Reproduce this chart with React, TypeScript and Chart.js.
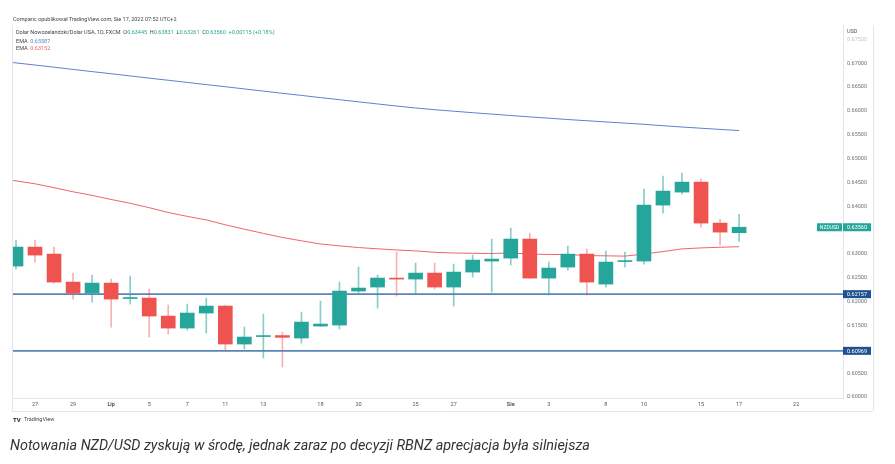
import React, { useEffect, useRef } from 'react';
import { Chart, registerables } from 'chart.js';
Chart.register(...registerables);

// Daily NZD/USD candles, Jun 24 – Aug 17 2022 (index 0 = Jun 24)
const days = ['24.06','27.06','28.06','29.06','30.06','01.07','04.07','05.07','06.07','07.07','08.07','11.07','12.07','13.07','14.07','15.07','18.07','19.07','20.07','21.07','22.07','25.07','26.07','27.07','28.07','29.07','01.08','02.08','03.08','04.08','05.08','08.08','09.08','10.08','11.08','12.08','15.08','16.08','17.08'];
const openP = [0.62746,0.63144,0.62997,0.62410,0.62180,0.62389,0.62065,0.62075,0.61698,0.61446,0.61761,0.61907,0.61111,0.61268,0.61289,0.61237,0.61488,0.61509,0.62222,0.62306,0.62494,0.62473,0.62599,0.62306,0.62620,0.62851,0.62913,0.63312,0.62494,0.62725,0.62997,0.62368,0.62840,0.62851,0.64024,0.64297,0.64506,0.63647,0.63445];
const highP = [0.63291,0.63291,0.63144,0.62599,0.62557,0.62473,0.62536,0.62264,0.61928,0.61949,0.62075,0.61928,0.61467,0.61740,0.61362,0.61782,0.62012,0.62410,0.62725,0.62557,0.63039,0.62809,0.62809,0.62788,0.62976,0.63312,0.63542,0.63437,0.62830,0.63165,0.63102,0.63060,0.63039,0.64360,0.64632,0.64695,0.64569,0.63731,0.63831];
const lowP = [0.62683,0.62830,0.62389,0.62054,0.61991,0.61467,0.61949,0.61258,0.61320,0.61404,0.61341,0.60985,0.61006,0.60817,0.60629,0.61132,0.61478,0.61425,0.62180,0.61865,0.62117,0.62180,0.62264,0.61907,0.62515,0.62201,0.62767,0.62484,0.62138,0.62662,0.62138,0.62306,0.62725,0.62788,0.63857,0.64255,0.63563,0.63186,0.63261];
const closeP = [0.63144,0.62976,0.62410,0.62180,0.62389,0.62054,0.62075,0.61698,0.61446,0.61761,0.61907,0.61111,0.61258,0.61279,0.61251,0.61572,0.61530,0.62222,0.62285,0.62494,0.62473,0.62599,0.62306,0.62620,0.62872,0.62892,0.63312,0.62494,0.62704,0.62997,0.62410,0.62830,0.62851,0.64024,0.64318,0.64506,0.63647,0.63458,0.63560];

// EMA series (index -1 .. 38)
const emaStart = -1;
const emaSlow = [0.67050,0.67005,0.66961,0.66915,0.66869,0.66823,0.66778,0.66732,0.66686,0.66642,0.66596,0.66550,0.66506,0.66460,0.66414,0.66368,0.66324,0.66278,0.66234,0.66189,0.66145,0.66101,0.66060,0.66024,0.65993,0.65961,0.65932,0.65902,0.65873,0.65846,0.65818,0.65793,0.65768,0.65743,0.65718,0.65689,0.65661,0.65636,0.65611,0.65587];
const emaFast = [0.64588,0.64532,0.64471,0.64389,0.64303,0.64228,0.64142,0.64062,0.63970,0.63869,0.63788,0.63714,0.63611,0.63519,0.63431,0.63345,0.63276,0.63209,0.63169,0.63134,0.63108,0.63083,0.63064,0.63035,0.63020,0.63014,0.63010,0.63020,0.62999,0.62989,0.62989,0.62966,0.62960,0.62955,0.62997,0.63050,0.63106,0.63127,0.63140,0.63152];

const xTickIdx = [1,3,5,7,9,11,13,16,18,21,23,26,28,31,33,36,38,41];
const xTickLabels = ['27','29','Lip','5','7','11','13','18','20','25','27','Sie','3','8','10','15','17','22'];
const monthLabels = ['Lip','Sie'];
const yTicks = [0.600,0.605,0.610,0.615,0.620,0.625,0.630,0.635,0.640,0.645,0.650,0.655,0.660,0.665,0.670,0.675];
const levels = [0.62157, 0.60969];
const symbol = 'NZDUSD';
const headerText = 'Comparic opublikował TradingView.com, Sie 17, 2022 07:52 UTC+2';
const instrumentText = 'Dolar Nowozelandzki/Dolar USA, 1D, FXCM';
const changeText = '+0.00115 (+0.18%)';
const captionText = 'Notowania NZD/USD zyskują w środę, jednak zaraz po decyzji RBNZ aprecjacja była silniejsza';

const UP = '#26a69a';
const DOWN = '#ef5350';
const UP_WICK = 'rgba(38,166,154,0.55)';
const DOWN_WICK = 'rgba(239,83,80,0.45)';
const SLOW_C = '#5d82cf';
const FAST_C = '#f06468';
const LEVEL_C = '#5a84b8';
const LEVEL_BOX = '#1f5190';
const FONT = 'Roboto, "Liberation Sans", sans-serif';

const overlay = {
  id: 'tvOverlay',
  afterDraw(chart: any) {
    const { ctx, chartArea: ca, scales } = chart;
    const y = scales.y;
    ctx.save();
    // frame lines
    ctx.strokeStyle = '#e3e5ea';
    ctx.lineWidth = 1;
    ctx.beginPath();
    ctx.moveTo(ca.left + 0.5, ca.top); ctx.lineTo(ca.left + 0.5, 411);
    ctx.moveTo(ca.left, 411.5); ctx.lineTo(873, 411.5);
    ctx.moveTo(873.5, ca.top); ctx.lineTo(873.5, 411);
    ctx.stroke();

    // level labels on price axis
    ctx.font = `5.5px ${FONT}`;
    ctx.textBaseline = 'middle';
    levels.forEach((lv) => {
      const py = y.getPixelForValue(lv);
      ctx.fillStyle = LEVEL_BOX;
      ctx.fillRect(ca.right, py - 4, 28, 8);
      ctx.fillStyle = '#ffffff';
      ctx.textAlign = 'left';
      ctx.fillText(lv.toFixed(5), ca.right + 4, py + 0.3);
    });
    // last price
    const last = closeP[closeP.length - 1];
    const lp = y.getPixelForValue(last);
    ctx.fillStyle = UP;
    ctx.fillRect(ca.right, lp - 4, 28, 8);
    ctx.fillRect(ca.right - 26, lp - 4, 25, 8);
    ctx.fillStyle = '#ffffff';
    ctx.fillText(last.toFixed(5), ca.right + 4, lp + 0.3);
    ctx.textAlign = 'center';
    ctx.font = `5px ${FONT}`;
    ctx.fillText(symbol, ca.right - 13.5, lp + 0.3);

    // currency label
    ctx.fillStyle = '#ffffff';
    ctx.fillRect(ca.right + 1, ca.top, 29, 10);
    ctx.textAlign = 'left';
    ctx.fillStyle = '#555';
    ctx.font = `5.5px ${FONT}`;
    ctx.fillText('USD', ca.right + 4, 32);
    ctx.fillStyle = '#c4c6cc';
    ctx.fillText((0.675).toFixed(5), ca.right + 4, y.getPixelForValue(0.675));

    // header texts
    ctx.textAlign = 'left';
    ctx.fillStyle = '#444';
    ctx.fillText(headerText, 13, 20);
    const segs: [string, string][] = [
      [instrumentText + '  O', '#444'],
      [openP[openP.length - 1].toFixed(5), UP],
      ['  H', '#444'],
      [highP[highP.length - 1].toFixed(5), UP],
      ['  L', '#444'],
      [lowP[lowP.length - 1].toFixed(5), UP],
      ['  C', '#444'],
      [closeP[closeP.length - 1].toFixed(5), UP],
      ['  ' + changeText, UP],
    ];
    let x = 16;
    segs.forEach(([t, c]) => {
      ctx.fillStyle = c;
      ctx.fillText(t, x, 33);
      x += ctx.measureText(t).width;
    });
    const emaRows: [number, string, number][] = [
      [emaSlow[emaSlow.length - 1], SLOW_C, 41.5],
      [emaFast[emaFast.length - 1], FAST_C, 48.5],
    ];
    emaRows.forEach(([v, c, ty]) => {
      ctx.fillStyle = '#444';
      ctx.fillText('EMA', 16, ty);
      const w = ctx.measureText('EMA  ').width;
      ctx.fillStyle = c;
      ctx.fillText(v.toFixed(5), 16 + w, ty);
    });

    // TradingView mark
    ctx.fillStyle = '#131722';
    ctx.font = `bold 6px ${FONT}`;
    ctx.fillText('TV', 13, 420);
    ctx.fillStyle = '#444';
    ctx.font = `5.5px ${FONT}`;
    ctx.fillText('TradingView', 24, 420);
    ctx.restore();
  },
  beforeDatasetsDraw(chart: any) {
    const { ctx, chartArea: ca, scales } = chart;
    ctx.save();
    ctx.strokeStyle = LEVEL_C;
    ctx.lineWidth = 1.6;
    levels.forEach((lv) => {
      const py = scales.y.getPixelForValue(lv);
      ctx.beginPath();
      ctx.moveTo(ca.left, py);
      ctx.lineTo(ca.right, py);
      ctx.stroke();
    });
    ctx.restore();
  },
};

export default function App() {
  const ref = useRef<HTMLCanvasElement>(null);
  useEffect(() => {
    document.body.style.margin = '0';
    const up = closeP.map((c, i) => c >= openP[i]);
    const bodies = openP.map((o, i) => ({ x: i, y: [o, closeP[i]] }));
    const wicks = lowP.map((l, i) => ({ x: i, y: [l, highP[i]] }));
    const slow = emaSlow.map((v, i) => ({ x: i + emaStart, y: v }));
    const fast = emaFast.map((v, i) => ({ x: i + emaStart, y: v }));
    const chart = new Chart(ref.current as HTMLCanvasElement, {
      type: 'bar',
      data: {
        labels: days,
        datasets: [
          { type: 'line', data: slow, borderColor: SLOW_C, borderWidth: 1, pointRadius: 0, order: 3 } as any,
          { type: 'line', data: fast, borderColor: FAST_C, borderWidth: 1, pointRadius: 0, order: 3 } as any,
          { data: wicks as any, backgroundColor: up.map((u) => (u ? UP_WICK : DOWN_WICK)), barThickness: 1, grouped: false, order: 2 } as any,
          { data: bodies as any, backgroundColor: up.map((u) => (u ? UP : DOWN)), barThickness: 14, minBarLength: 1, grouped: false, order: 1 } as any,
        ],
      },
      options: {
        animation: false,
        responsive: false,
        layout: { padding: { left: 12, top: 25, right: 22, bottom: 53 } },
        plugins: { legend: { display: false }, tooltip: { enabled: false } },
        scales: {
          x: {
            type: 'linear',
            min: -0.21,
            max: 43.46,
            offset: false,
            grid: { display: false, drawTicks: false },
            border: { display: true, color: '#e3e5ea' },
            afterBuildTicks: (s: any) => { s.ticks = xTickIdx.map((v) => ({ value: v })); },
            afterFit: (s: any) => { s.height = 13; },
            ticks: {
              autoSkip: false,
              maxRotation: 0,
              padding: 3.5,
              color: '#555',
              font: (c: any) => ({ family: FONT, size: 5.5, weight: monthLabels.includes(c.tick && c.tick.label) ? 'bold' : 'normal' }),
              callback: (v: any) => { const k = xTickIdx.indexOf(v); return k >= 0 ? xTickLabels[k] : ''; },
            },
          },
          y: {
            position: 'right',
            min: 0.5998,
            max: 0.678,
            grid: { display: false, drawTicks: false },
            border: { display: true, color: '#e3e5ea' },
            afterBuildTicks: (s: any) => { s.ticks = yTicks.map((v) => ({ value: v })); },
            afterFit: (s: any) => { s.width = 30; },
            ticks: {
              padding: 4,
              color: (c: any) => (c.tick && c.tick.value >= 0.6749 ? 'rgba(0,0,0,0)' : '#6f7178'),
              font: { family: FONT, size: 5.5 },
              callback: (v: any) => Number(v).toFixed(5),
            },
          },
        },
      } as any,
      plugins: [overlay],
    });
    return () => chart.destroy();
  }, []);
  return (
    <div style={{ position: 'fixed', left: 0, top: 0, width: 895, height: 464, background: '#fff', overflow: 'hidden' }}>
      <canvas ref={ref} width={895} height={464} style={{ position: 'absolute', left: 0, top: 0, width: 895, height: 464 }} />
      <div style={{ position: 'absolute', left: 10, top: 437, fontFamily: FONT, fontStyle: 'italic', fontSize: 14.4, color: '#333', whiteSpace: 'nowrap' }}>
        {captionText}
      </div>
    </div>
  );
}
